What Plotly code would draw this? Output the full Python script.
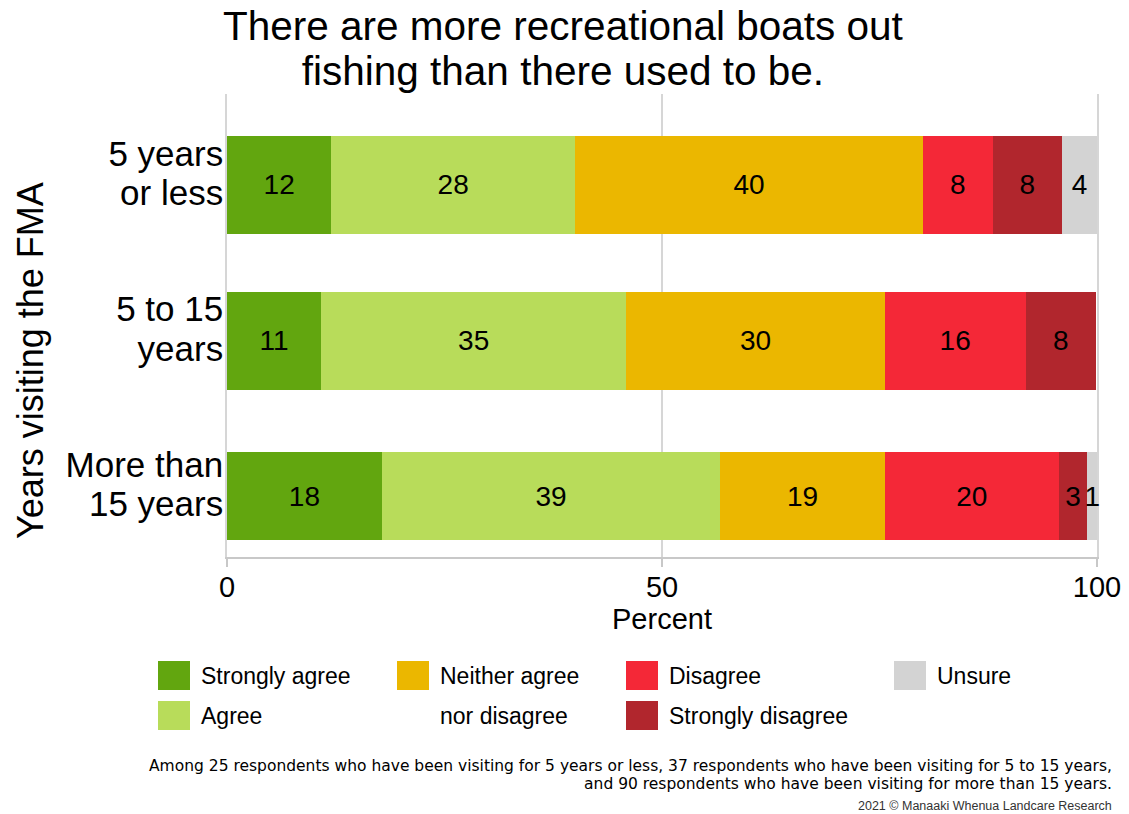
import plotly.graph_objects as go

# ---------------- data ----------------
groups = ["5 years<br>or less", "5 to 15<br>years", "More than<br>15 years"]
responses = ["Strongly agree", "Agree", "Neither agree\nnor disagree",
             "Disagree", "Strongly disagree", "Unsure"]
strongly_agree = [12.0, 10.8, 17.8]
agree = [28.0, 35.1, 38.9]
neither = [40.0, 29.7, 18.9]
disagree = [8.0, 16.2, 20.0]
strongly_disagree = [8.0, 8.1, 3.3]
unsure = [4.0, 0.0, 1.1]
x_ticks = [0, 50, 100]

title_lines = ["There are more recreational boats out", "fishing than there used to be."]
y_title = "Years visiting the FMA"
x_title = "Percent"
footnote_lines = [
    "Among 25 respondents who have been visiting for 5 years or less, "
    "37 respondents who have been visiting for 5 to 15 years,",
    "and 90 respondents who have been visiting for more than 15 years.",
]
credit = "2021 © Manaaki Whenua Landcare Research"

# ---------------- style ----------------
colors = ["#62a60f", "#b8dc5a", "#ebb700", "#f42837", "#b1262d", "#d3d3d3"]
series = [strongly_agree, agree, neither, disagree, strongly_disagree, unsure]
bar_widths = [0.63, 0.63, 0.566]
FONT = "Liberation Sans, Arial, sans-serif"
FOOT_FONT = "DejaVu Sans, Verdana, sans-serif"

W, H = 1129, 814
PL, PT, PR, PB = 227, 94, 1097, 557          # plot box in page pixels
ML, MT, MR, MB = PL, PT, W - PR, H - PB
PW = PR - PL
PH = PB - PT


def px(x):
    return (x - PL) / PW


def py(y):
    return (PB - y) / PH


def tight(lines, size, spacing):
    """Multi-line text with a given glyph size and a chosen line spacing."""
    base = spacing / 1.3
    body = "<br>".join(f'<span style="font-size:{size}px">{t}</span>' for t in lines)
    return body, base


fig = go.Figure()
for name, vals, col in zip(responses, series, colors):
    label = name.replace("\n", " ")
    fig.add_trace(go.Bar(
        y=groups, x=vals, orientation="h", name=label,
        marker=dict(color=col, line=dict(width=0)),
        width=bar_widths,
        text=[f"{v:.0f}" if v > 0 else "" for v in vals],
        textposition="inside", insidetextanchor="middle",
        constraintext="none", cliponaxis=False,
        textfont=dict(family=FONT, size=28, color="black"),
        showlegend=False,
        hovertemplate="%{y}: %{x:.1f}%<extra>" + label + "</extra>",
    ))

shapes = []
annotations = []

# title
title_text, title_base = tight(title_lines, 40.5, 45)
annotations.append(dict(
    text=title_text, xref="paper", yref="paper", x=px(563), y=py(49),
    xanchor="center", yanchor="middle", align="center", showarrow=False,
    font=dict(family=FONT, size=title_base, color="black")))

# y-axis title
annotations.append(dict(
    text=y_title, xref="paper", yref="paper", x=px(30), y=py(361),
    xanchor="center", yanchor="middle", textangle=-90, showarrow=False,
    font=dict(family=FONT, size=36, color="black")))

# custom legend (column-major, 4 columns x 2 rows)
legend_slots = [(0, 0), (0, 1), (1, 0), (2, 0), (2, 1), (3, 0)]
col_left = [158, 397, 626, 894]
row_top = [661, 701]
for name, col, (c, r) in zip(responses, colors, legend_slots):
    x0 = col_left[c]
    y0 = row_top[r]
    shapes.append(dict(type="rect", xref="paper", yref="paper",
                       x0=px(x0), x1=px(x0 + 32), y0=py(y0), y1=py(y0 + 29),
                       fillcolor=col, line=dict(width=0)))
    for k, part in enumerate(name.split("\n")):
        annotations.append(dict(
            text=part, xref="paper", yref="paper",
            x=px(x0 + 41), y=py(y0 + 15 + 40 * k),
            xanchor="left", yanchor="middle", showarrow=False,
            font=dict(family=FONT, size=23, color="black")))

foot_text, foot_base = tight(footnote_lines, 15.5, 18)
annotations.append(dict(
    text=foot_text, xref="paper", yref="paper", x=px(1114), y=py(775),
    xanchor="right", yanchor="middle", align="right", showarrow=False,
    font=dict(family=FOOT_FONT, size=foot_base, color="black")))
annotations.append(dict(
    text=credit, xref="paper", yref="paper", x=px(1114), y=py(806),
    xanchor="right", yanchor="middle", showarrow=False,
    font=dict(family=FONT, size=12.5, color="#333333")))

tick_texts = []
tick_base = 30
for g in groups:
    t, tick_base = tight(g.split("<br>"), 35, 39.5)
    tick_texts.append(t)

fig.update_layout(
    width=W, height=H,
    margin=dict(l=ML, r=MR, t=MT, b=MB, autoexpand=False),
    barmode="stack",
    plot_bgcolor="white", paper_bgcolor="white",
    font=dict(family=FONT, color="black"),
    showlegend=False,
    shapes=shapes,
    annotations=annotations,
    xaxis=dict(
        range=[0, 100], tickvals=x_ticks, ticktext=[str(t) for t in x_ticks],
        showgrid=True, gridcolor="#d6d6d6", gridwidth=1.5,
        zeroline=False, showline=True, linecolor="#c8c8c8", linewidth=1.5,
        ticks="outside", ticklen=8, tickcolor="#c8c8c8", tickwidth=1.5,
        ticklabelstandoff=-5,
        tickfont=dict(family=FONT, size=29, color="black"),
        title=dict(text=x_title, font=dict(family=FONT, size=29, color="black"), standoff=0),
        automargin=False, fixedrange=True,
    ),
    yaxis=dict(
        type="category", categoryorder="array", categoryarray=groups,
        tickvals=groups, ticktext=tick_texts,
        range=[2.392, -0.585],
        showgrid=False, zeroline=False,
        showline=True, mirror=True, linecolor="#d6d6d6", linewidth=1.5,
        layer="below traces",
        ticks="", ticklabelstandoff=-4, ticklabelshift=10,
        tickfont=dict(family=FONT, size=tick_base, color="black"),
        automargin=False, fixedrange=True,
    ),
)

# remove the browser's default page margin so the figure starts at the top-left corner
fig.write_html("out.html", config={"displayModeBar": False},
               post_script="document.body.style.margin='0';")
